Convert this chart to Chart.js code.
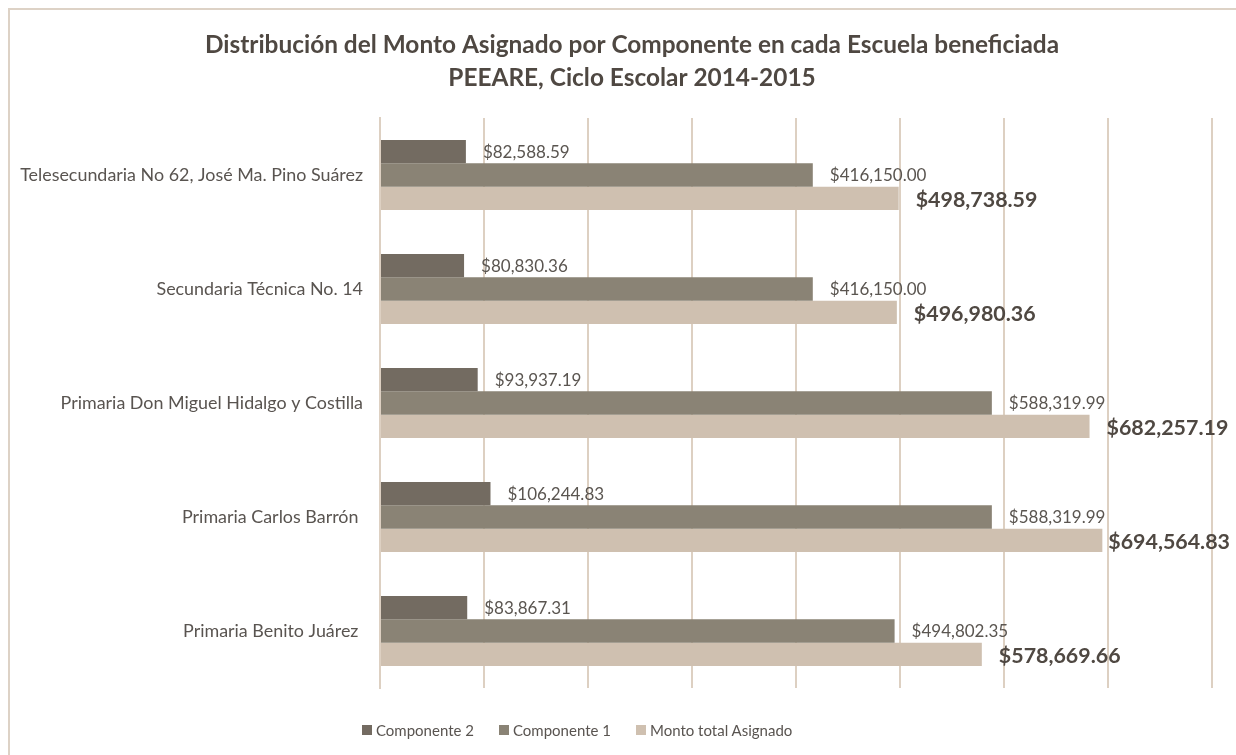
<!DOCTYPE html>
<html lang="es">
<head>
<meta charset="UTF-8">
<title>Distribución del Monto Asignado</title>
<script src="https://cdn.jsdelivr.net/npm/chart.js"></script>
<style>
  body { margin: 0; background: #fff; }
  #box { position: absolute; left: 0; top: 0; width: 1236px; height: 755px; }
  #frame { position: absolute; left: 8px; top: 8px; width: 1240px; height: 800px;
           border: 2px solid #ddd2c6; pointer-events: none; }
  #legend { position: absolute; left: 362px; top: 719px; display: flex; margin: 0; padding: 0;
            list-style: none; font-family: Lato, "Liberation Sans", sans-serif; font-size: 15px;
            color: #595450; }
  #legend li { display: flex; align-items: center; height: 22px; margin-right: 25px; }
  #legend span { display: inline-block; width: 10px; height: 10px; margin-right: 4px; }
</style>
</head>
<body>
<div id="box"><canvas id="myChart" width="1236" height="755"></canvas></div>
<div id="frame"></div>
<ul id="legend"></ul>
<script>
const escuelas = ['Telesecundaria No 62, José Ma. Pino Suárez', 'Secundaria Técnica No. 14',
  'Primaria Don Miguel Hidalgo y Costilla', 'Primaria Carlos Barrón ', 'Primaria Benito Juárez '];
const componente2 = [82588.59, 80830.36, 93937.19, 106244.83, 83867.31];
const componente1 = [416150.00, 416150.00, 588319.99, 588319.99, 494802.35];
const montoTotal = [498738.59, 496980.36, 682257.19, 694564.83, 578669.66];
const titulo = ['Distribución del Monto Asignado por Componente en cada Escuela beneficiada',
  'PEEARE, Ciclo Escolar 2014-2015'];

const fuente = 'Lato, "Liberation Sans", sans-serif';
const fmt = v => '$' + v.toLocaleString('en-US', { minimumFractionDigits: 2, maximumFractionDigits: 2 });

// etiquetas al final de cada barra + título centrado como en Excel
const barLabels = {
  id: 'barLabels',
  afterDatasetsDraw(chart) {
    const ctx = chart.ctx;
    ctx.save();
    ctx.textBaseline = 'middle';
    ctx.textAlign = 'left';
    chart.data.datasets.forEach((ds, i) => {
      const meta = chart.getDatasetMeta(i);
      const bold = i === 2;
      ctx.font = (bold ? 'bold 21.4px ' : '17px ') + fuente;
      ctx.fillStyle = bold ? '#4f4842' : '#5a5550';
      meta.data.forEach((bar, j) => {
        const txt = fmt(ds.data[j]);
        const x = Math.min(bar.x + 17, chart.width - 6 - ctx.measureText(txt).width);
        ctx.fillText(txt, x, bar.y + (bold ? 2 : 1));
      });
    });
    ctx.restore();
  },
  afterDraw(chart) {
    const ctx = chart.ctx;
    ctx.save();
    ctx.textAlign = 'center';
    ctx.textBaseline = 'middle';
    ctx.font = 'bold 24.4px ' + fuente;
    ctx.fillStyle = '#4f4842';
    ctx.fillText(titulo[0], 632, 45);
    ctx.fillText(titulo[1], 632, 78);
    ctx.restore();
  }
};

const chart = new Chart(document.getElementById('myChart'), {
  type: 'bar',
  data: {
    labels: escuelas,
    datasets: [
      { label: 'Componente 2', data: componente2, backgroundColor: '#736b61' },
      { label: 'Componente 1', data: componente1, backgroundColor: '#8a8375' },
      { label: 'Monto total Asignado', data: montoTotal, backgroundColor: '#cfc0b0' }
    ]
  },
  options: {
    indexAxis: 'y',
    responsive: false,
    animation: false,
    layout: { padding: { left: 0, right: 24, top: 118, bottom: 67 } },
    datasets: { bar: { categoryPercentage: 0.614, barPercentage: 1 } },
    scales: {
      x: {
        min: 0, max: 800000,
        ticks: { display: false, stepSize: 100000 },
        grid: { color: '#ddd0c2', lineWidth: 2, drawTicks: false },
        border: { display: false },
        afterFit(scale) { scale.height = 0; }
      },
      y: {
        ticks: { color: '#595450', font: { family: fuente, size: 17.9 }, padding: 17 },
        grid: { display: false, drawTicks: false },
        border: { color: '#ddd0c2', width: 2 },
        afterFit(scale) { scale.width = 380; }
      }
    },
    plugins: {
      title: { display: false },
      legend: { display: false },
      tooltip: { enabled: false }
    }
  },
  plugins: [barLabels]
});

// leyenda
const ul = document.getElementById('legend');
chart.data.datasets.forEach(ds => {
  const li = document.createElement('li');
  li.innerHTML = `<span style="background:${ds.backgroundColor}"></span>${ds.label}`;
  ul.appendChild(li);
});
</script>
</body>
</html>
